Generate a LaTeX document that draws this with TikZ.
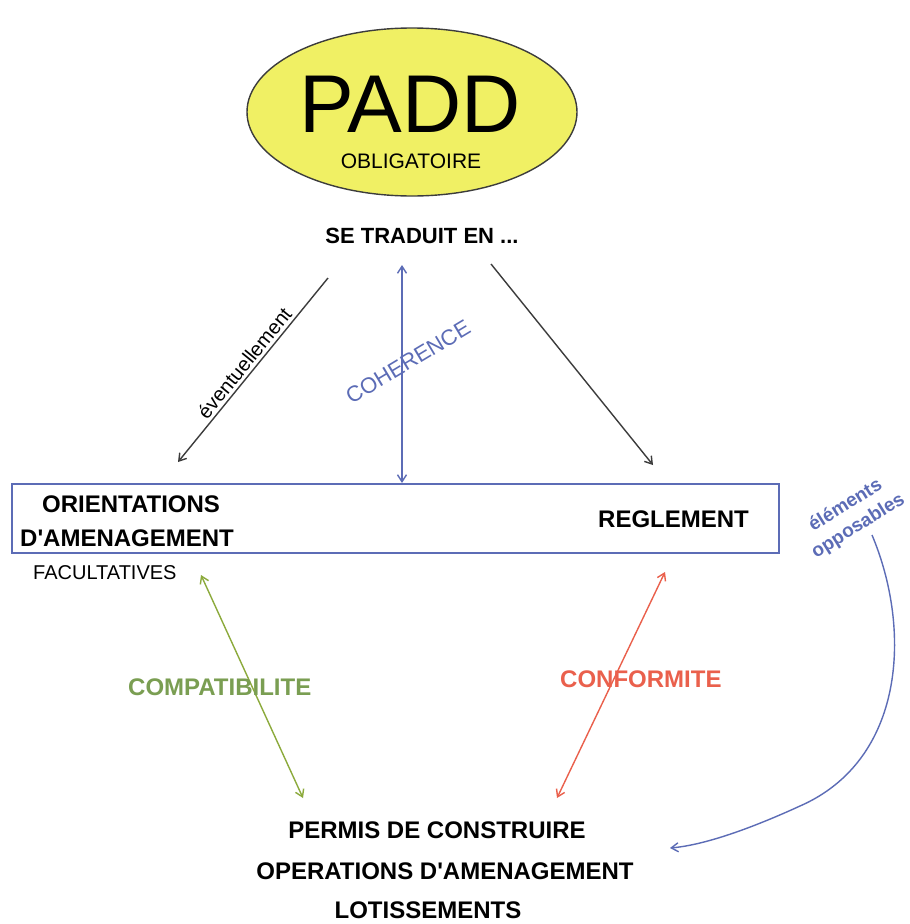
\documentclass[tikz,border=0pt]{standalone}
\usepackage{fontspec}
\setmainfont{Liberation Sans}
% a family without TeX ligatures, so that ' stays a straight apostrophe
\newfontfamily\labelfont{Liberation Sans}
\usetikzlibrary{arrows.meta,shapes.geometric}
\definecolor{paddyellow}{RGB}{240,240,100}
\definecolor{linkblue}{RGB}{92,108,182}
\definecolor{linkgreen}{RGB}{122,158,82}
\definecolor{arrowgreen}{RGB}{140,170,60}
\definecolor{linkred}{RGB}{234,96,76}
\definecolor{darkline}{RGB}{60,60,60}
\tikzset{
  tip/.style={-{Straight Barb[length=7pt,width=9pt]}},
  bitip/.style={{Straight Barb[length=7pt,width=9pt]}-{Straight Barb[length=7pt,width=9pt]}},
  boldlabel/.style={inner sep=0pt,font=\labelfont\fontsize{24}{24}\selectfont\bfseries},
  plainlabel/.style={inner sep=0pt,font=\labelfont\fontsize{20}{20}\selectfont},
  conn/.style={line width=1.4pt},
}
\begin{document}
\begin{tikzpicture}[x=1pt,y=-1pt]
\useasboundingbox[fill=white] (0,0) rectangle (910,924);

% PADD ellipse
\node[ellipse,draw=darkline,line width=1.4pt,fill=paddyellow,
      minimum width=330pt,minimum height=168pt,inner sep=0pt] (padd) at (412,112) {};
\node[anchor=base,inner sep=0pt,font=\labelfont\fontsize{82}{82}\selectfont] (paddtxt) at (410,132) {PADD};
\node[anchor=base,inner sep=0pt,font=\labelfont\fontsize{21}{21}\selectfont] (oblig) at (411,168) {OBLIGATOIRE};

\node[anchor=base,inner sep=0pt,font=\labelfont\fontsize{22}{22}\selectfont\bfseries] (trad) at (422,243) {SE TRADUIT EN ...};

% documents box
\node[draw=linkblue,line width=1.4pt,minimum width=767pt,minimum height=69pt,inner sep=0pt] (box) at (395.5,518.5) {};
\node[boldlabel,anchor=base west] (orient) at (42,512) {ORIENTATIONS};
\node[boldlabel,anchor=base west] (amen) at (20,546) {D'AMENAGEMENT};
\node[plainlabel,anchor=base west] (facult) at (33,579) {FACULTATIVES};
\node[boldlabel,anchor=base west] (regl) at (598,527) {REGLEMENT};

% bottom block
\node[boldlabel,anchor=base] (permis) at (437,838) {PERMIS DE CONSTRUIRE};
\node[boldlabel,anchor=base] (oper) at (445,879) {OPERATIONS D'AMENAGEMENT};
\node[boldlabel,anchor=base] (lotis) at (428,918) {LOTISSEMENTS};

% connector ends
\coordinate (evs) at (328,278);
\coordinate (eve) at (178,462);
\coordinate (rgs) at (491,264);
\coordinate (rge) at (653,465);
\coordinate (chs) at (402,265);
\coordinate (che) at (402,483);
\coordinate (cps) at (201,575);
\coordinate (cpe) at (303,798);
\coordinate (cfs) at (665,572);
\coordinate (cfe) at (557,798);
\coordinate (ops) at (872,535);
\coordinate (opm) at (800,806);
\coordinate (ope) at (670,848);

% connectors
\draw[conn,darkline,tip] (evs) -- (eve)
  node[midway,sloped,above=3pt,inner sep=0pt,font=\labelfont\fontsize{20}{20}\selectfont,black] (evtxt) {éventuellement};
\draw[conn,darkline,tip] (rgs) -- (rge);
\draw[conn,linkblue,bitip] (chs) -- (che);
\node[rotate=31,inner sep=0pt,text=linkblue,font=\labelfont\fontsize{22}{22}\selectfont] (coh) at (408,362) {COHERENCE};

\draw[conn,arrowgreen,bitip] (cps) -- (cpe);
\node[boldlabel,anchor=base west,text=linkgreen] (compat) at (128,695) {COMPATIBILITE};

\draw[conn,linkred,bitip] (cfs) -- (cfe);
\node[boldlabel,anchor=base west,text=linkred] (conf) at (560,687) {CONFORMITE};

\draw[conn,linkblue,tip] (ops) .. controls (912,630) and (905,760) .. (opm)
  .. controls (752,828) and (705,845) .. (ope);
\node[rotate=32,inner sep=0pt,text=linkblue,align=center,
      font=\labelfont\fontsize{19}{24}\selectfont\bfseries] (oppos) at (852,516) {éléments\\opposables};
\end{tikzpicture}
\end{document}
